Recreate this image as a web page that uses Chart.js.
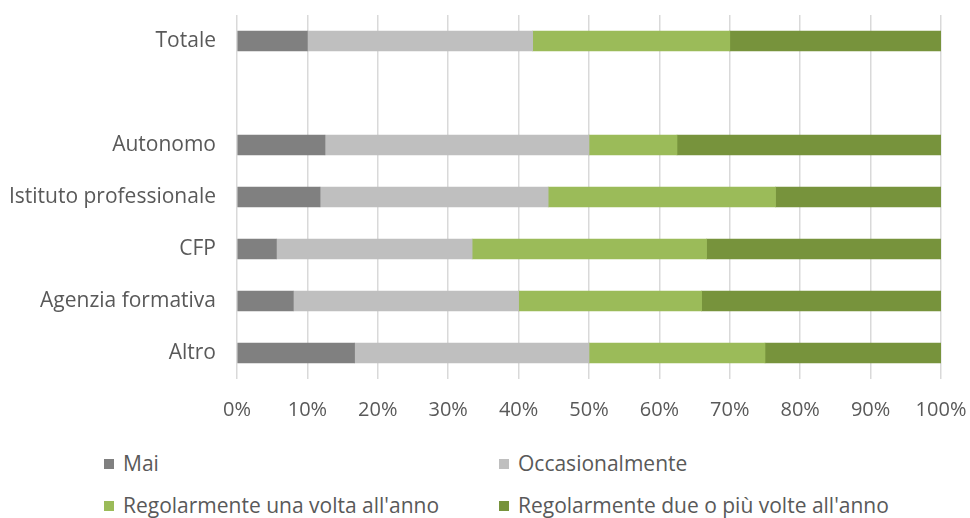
<!DOCTYPE html>
<html>
<head>
<meta charset="utf-8">
<script src="https://cdn.jsdelivr.net/npm/chart.js@4.4.1/dist/chart.umd.min.js"></script>
<style>
  html, body { margin: 0; padding: 0; background: #fff; overflow: hidden; }
  #wrap { position: absolute; left: 0; top: 0; width: 970px; height: 432px; }
  #legend { position: absolute; left: 0; top: 440px; width: 970px; height: 78px;
            font-family: "Open Sans", sans-serif; font-size: 21px; line-height: 28px; color: #595959; }
  .item { position: absolute; white-space: nowrap; }
  .box { display: inline-block; width: 10px; height: 10px; margin-right: 9px; vertical-align: 2px; }
</style>
</head>
<body>
<div id="wrap"><canvas id="chart"></canvas></div>
<div id="legend"></div>
<script>
// dati
const categories = ['Totale', '', 'Autonomo', 'Istituto professionale', 'CFP', 'Agenzia formativa', 'Altro'];
const seriesNames = ['Mai', 'Occasionalmente', "Regolarmente una volta all'anno", "Regolarmente due o più volte all'anno"];
const mai = [10, null, 12.5, 11.8, 5.6, 8, 16.7];
const occasionalmente = [32, null, 37.5, 32.4, 27.8, 32, 33.3];
const unaVolta = [28, null, 12.5, 32.3, 33.3, 26, 25];
const dueVolte = [30, null, 37.5, 23.5, 33.3, 34, 25];
const tickValues = [0, 10, 20, 30, 40, 50, 60, 70, 80, 90, 100];

const colors = ['#808080', '#bfbfbf', '#9bbb59', '#77933c'];
const values = [mai, occasionalmente, unaVolta, dueVolte];

const datasets = seriesNames.map((name, i) => ({
    label: name,
    data: values[i],
    backgroundColor: colors[i],
    borderWidth: 0,
    barThickness: 20
}));

const ctx = document.getElementById('chart').getContext('2d');
new Chart(ctx, {
    type: 'bar',
    data: { labels: categories, datasets: datasets },
    options: {
        indexAxis: 'y',
        responsive: true,
        maintainAspectRatio: false,
        animation: false,
        layout: { padding: { top: 15, right: 29, left: 0, bottom: 0 } },
        plugins: {
            legend: { display: false },
            tooltip: { enabled: false }
        },
        scales: {
            x: {
                stacked: true,
                min: 0,
                max: 100,
                afterBuildTicks: axis => { axis.ticks = tickValues.map(v => ({ value: v })); },
                afterFit: scale => {
                    scale.height = 53;
                    scale.paddingRight = 0;
                },
                ticks: {
                    callback: v => v + '%',
                    color: '#595959',
                    font: { family: 'Open Sans', size: 20 },
                    padding: 19,
                    maxRotation: 0
                },
                grid: { color: '#d9d9d9', lineWidth: 1.5, drawTicks: false },
                border: { display: false }
            },
            y: {
                stacked: true,
                afterFit: scale => {
                    scale.width = 237;
                    scale.paddingTop = 0;
                    scale.paddingBottom = 0;
                },
                ticks: {
                    color: '#595959',
                    font: { family: 'Open Sans', size: 21 },
                    padding: 21
                },
                grid: { display: false, drawTicks: false },
                border: { display: false }
            }
        }
    }
});

// legenda in due colonne
const legendPos = [[104, 9], [499, 9], [104, 51], [499, 51]];
const legend = document.getElementById('legend');
seriesNames.forEach((name, i) => {
    const el = document.createElement('div');
    el.className = 'item';
    el.style.left = legendPos[i][0] + 'px';
    el.style.top = legendPos[i][1] + 'px';
    el.innerHTML = '<span class="box" style="background:' + colors[i] + '"></span>' + name;
    legend.appendChild(el);
});
</script>
</body>
</html>
